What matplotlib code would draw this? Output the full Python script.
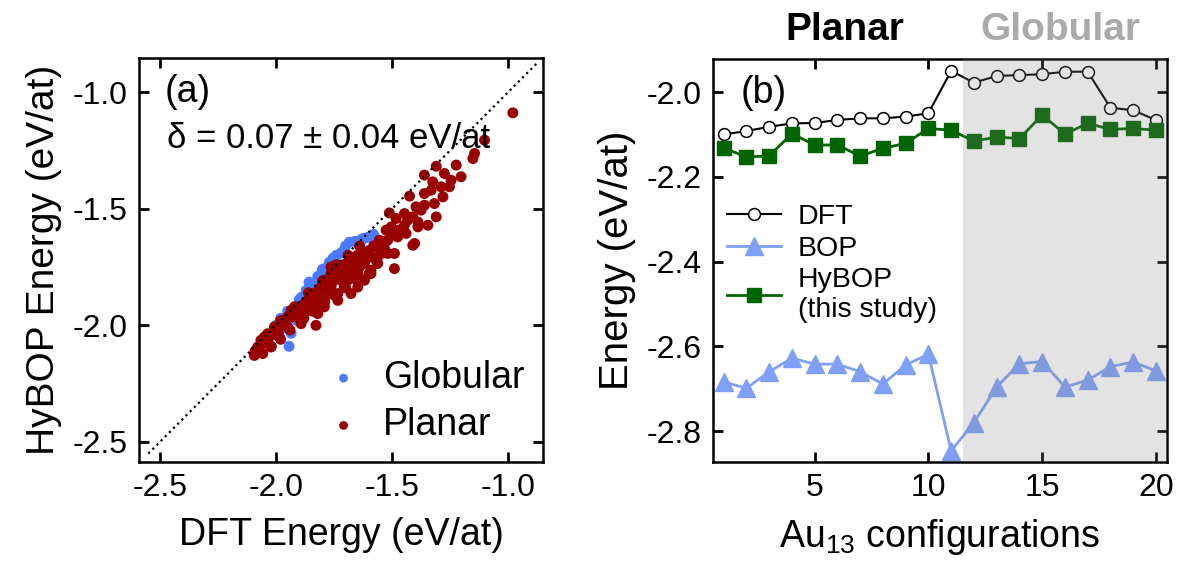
import matplotlib
matplotlib.use("Agg")
import matplotlib.pyplot as plt
from matplotlib.ticker import FormatStrFormatter

plt.rcParams['font.family'] = ['Liberation Sans', 'DejaVu Sans']
plt.rcParams['axes.unicode_minus'] = False
plt.rcParams['mathtext.fontset'] = 'custom'
plt.rcParams['mathtext.rm'] = 'Liberation Sans'
plt.rcParams['mathtext.it'] = 'Liberation Sans:italic'

# ---- panel (a): HyBOP vs DFT energies (eV/at) ----
globular_dft = [-1.685, -1.603, -1.754, -1.858, -1.806, -1.922, -1.944, -1.935, -1.72, -1.89,
                -1.836, -1.776, -1.647, -1.62, -1.707, -1.785, -1.595, -1.66, -1.74, -1.82,
                -1.87, -1.90, -1.95, -1.98, -2.00, -1.77, -1.80, -1.70, -1.63, -1.58,
                -1.96, -1.91]
globular_hybop = [-1.644, -1.622, -1.712, -1.815, -1.785, -1.927, -2.090, -2.034, -1.69, -1.88,
                  -1.82, -1.75, -1.65, -1.627, -1.678, -1.755, -1.622, -1.64, -1.70, -1.79,
                  -1.85, -1.89, -1.94, -1.97, -2.00, -1.73, -1.76, -1.66, -1.63, -1.61,
                  -2.01, -1.98]

planar_dft = [-0.980, -1.102, -1.152, -1.145, -1.224, -1.310, -1.275, -1.203, -1.361, -1.246,
              -1.253, -1.289, -1.332, -1.281, -1.318, -1.425, -1.397, -1.361, -1.310, -1.346,
              -1.512, -1.447, -1.483, -1.411, -1.389, -1.389, -1.447, -1.476, -1.526, -1.440,
              -1.497, -1.403, -1.411, -1.519, -1.490, -1.555, -1.533, -1.576, -1.490, -1.562,
              -1.591, -1.619, -1.634, -1.677, -1.706, -1.734, -1.763, -1.792, -1.734, -1.792,
              -1.828, -1.878, -1.907, -1.964, -2.007, -2.050, -2.079, -2.093, -2.057, -2.022,
              -1.986, -1.950, -1.935, -1.892, -1.849, -1.820, -1.763, -1.691, -1.648, -1.619,
              -1.591, -1.634, -1.691, -1.720, -1.763, -1.820, -1.864, -1.900, -1.935, -1.950,
              -1.978, -2.007, -2.036, -2.065, -1.763, -1.677, -1.849, -1.878, -1.820, -1.792,
              -1.734, -1.677, -1.648, -1.619, -1.591, -1.562, -1.547, -1.519, -1.476, -1.504,
              -1.433, -1.375, -1.361, -1.325,
              -2.09, -2.08, -2.06, -2.04, -2.03, -2.01, -2.00, -1.99, -1.97, -1.96,
              -1.95, -1.93, -1.92, -1.91, -1.90, -1.88, -1.87, -1.86, -1.85, -1.84,
              -1.83, -1.82, -1.81, -1.80, -1.79, -1.78, -1.77, -1.76, -1.75, -1.74,
              -1.73, -1.72, -1.71, -1.70, -1.69, -1.68, -1.67, -1.66, -1.65, -1.64,
              -1.63, -1.62, -1.60, -1.58, -1.57, -1.55, -1.53,
              -2.02, -1.98, -1.94, -1.88, -1.84, -1.79, -1.75, -1.70, -1.66, -1.60,
              -2.05, -1.98, -1.92, -1.86, -1.80, -1.74, -1.69, -1.64]
planar_hybop = [-1.089, -1.206, -1.285, -1.263, -1.313, -1.318, -1.349, -1.363, -1.356, -1.378,
                -1.406, -1.406, -1.421, -1.449, -1.478, -1.446, -1.492, -1.485, -1.535, -1.571,
                -1.518, -1.521, -1.542, -1.535, -1.557, -1.578, -1.571, -1.592, -1.592, -1.606,
                -1.614, -1.649, -1.657, -1.692, -1.692, -1.635, -1.671, -1.664, -1.757, -1.735,
                -1.778, -1.735, -1.807, -1.778, -1.836, -1.750, -1.778, -1.807, -1.864, -1.893,
                -2.000, -1.921, -1.964, -1.979, -2.036, -2.064, -2.093, -2.129, -2.121, -2.093,
                -2.050, -2.007, -1.964, -1.993, -1.936, -1.907, -1.864, -1.807, -1.778, -1.692,
                -1.707, -1.721, -1.750, -1.807, -1.836, -1.864, -1.893, -1.921, -1.936, -1.964,
                -1.993, -2.007, -2.036, -2.064, -1.750, -1.707, -1.864, -1.950, -1.950, -1.921,
                -1.893, -1.864, -1.836, -1.807, -1.764, -1.707, -1.692, -1.635, -1.621, -1.578,
                -1.549, -1.506, -1.435, -1.385,
                -2.11, -2.10, -2.08, -2.07, -2.05, -2.04, -2.02, -2.03, -2.00, -1.99,
                -1.97, -1.95, -1.96, -1.93, -1.94, -1.91, -1.90, -1.91, -1.88, -1.89,
                -1.86, -1.87, -1.84, -1.85, -1.82, -1.83, -1.80, -1.82, -1.79, -1.78,
                -1.76, -1.79, -1.74, -1.77, -1.73, -1.76, -1.72, -1.74, -1.70, -1.75,
                -1.69, -1.72, -1.68, -1.66, -1.72, -1.66, -1.64,
                -2.09, -2.06, -2.02, -1.97, -1.94, -1.90, -1.87, -1.84, -1.80, -1.78,
                -2.05, -1.98, -1.92, -1.86, -1.81, -1.74, -1.70, -1.66]

# ---- panel (b): energies of 20 Au13 configurations ----
configs = list(range(1, 21))
dft_energy = [-2.100, -2.092, -2.082, -2.074, -2.073, -2.066, -2.062, -2.062, -2.058, -2.050,
              -1.950, -1.978, -1.962, -1.960, -1.958, -1.952, -1.952, -2.037, -2.043, -2.066]
bop_energy = [-2.684, -2.699, -2.660, -2.628, -2.642, -2.642, -2.660, -2.689, -2.644, -2.619,
              -2.847, -2.780, -2.696, -2.641, -2.636, -2.696, -2.680, -2.648, -2.637, -2.658]
hybop_energy = [-2.132, -2.153, -2.151, -2.098, -2.125, -2.125, -2.151, -2.133, -2.121, -2.086,
                -2.090, -2.116, -2.106, -2.110, -2.054, -2.099, -2.074, -2.088, -2.086, -2.090]

fig = plt.figure(figsize=(11.79, 5.65), dpi=100)
ax1 = fig.add_axes([0.1179, 0.1823, 0.3427, 0.715])
ax2 = fig.add_axes([0.6047, 0.1823, 0.385, 0.7133])


def style_axes(ax, size):
    for sp in ax.spines.values():
        sp.set_linewidth(1.8)
    ax.tick_params(direction='in', length=7, width=2, top=True, right=True,
                   labelsize=size, pad=8)


# (a) scatter
ax1.scatter(globular_dft, globular_hybop, s=62, color='#4a7bff', edgecolors='none',
            label='Globular', zorder=2)
ax1.scatter(planar_dft, planar_hybop, s=62, color='#990000', edgecolors='none',
            label='Planar', zorder=3)
ax1.plot([-2.55, -0.87], [-2.55, -0.87], color='black', linestyle=':', linewidth=1.6, zorder=4)
ax1.set_xlim(-2.59, -0.85)
ax1.set_ylim(-2.586, -0.854)
ax1.set_xticks([-2.5, -2.0, -1.5, -1.0])
ax1.set_yticks([-2.5, -2.0, -1.5, -1.0])
ax1.xaxis.set_major_formatter(FormatStrFormatter('%.1f'))
ax1.yaxis.set_major_formatter(FormatStrFormatter('%.1f'))
style_axes(ax1, 23)
ax1.set_xlabel('DFT Energy (eV/at)', fontsize=27, labelpad=10)
ax1.set_ylabel('HyBOP Energy (eV/at)', fontsize=28, labelpad=8)
ax1.text(0.064, 0.96, '(a)', transform=ax1.transAxes, fontsize=27, va='top', ha='left')
ax1.text(0.069, 0.80, 'δ = 0.07 ± 0.04 eV/at', transform=ax1.transAxes, fontsize=25,
         va='center', ha='left')
ax1.legend(loc='lower right', bbox_to_anchor=(1.0, 0.0), frameon=False, fontsize=27,
           handletextpad=0.05, borderaxespad=0.1, labelspacing=0.3, markerscale=0.8)

# (b) lines
ax2.axvspan(11.5, 20.6, color='#868686', alpha=0.23, linewidth=0, zorder=5)
ax2.plot(configs, dft_energy, color='black', linewidth=1.5, marker='o', markersize=8.5,
         markerfacecolor='white', markeredgecolor='black', markeredgewidth=1.1, label='DFT')
ax2.plot(configs, bop_energy, color='#80a0f8', linewidth=2, marker='^', markersize=12.5,
         label='BOP')
ax2.plot(configs, hybop_energy, color='#006400', linewidth=2, marker='s', markersize=10,
         label='HyBOP\n(this study)')
ax2.set_xlim(0.53, 20.48)
ax2.set_ylim(-2.873, -1.922)
ax2.set_xticks([5, 10, 15, 20])
ax2.set_yticks([-2.0, -2.2, -2.4, -2.6, -2.8])
ax2.yaxis.set_major_formatter(FormatStrFormatter('%.1f'))
style_axes(ax2, 23)
ax2.set_xlabel('Au$_{13}$ configurations', fontsize=27, labelpad=10)
ax2.set_ylabel('Energy (eV/at)', fontsize=29, labelpad=8)
ax2.text(0.06, 0.96, '(b)', transform=ax2.transAxes, fontsize=27, va='top', ha='left')
ax2.legend(loc='upper left', bbox_to_anchor=(0.03, 0.64), frameon=False, fontsize=20.5,
           handlelength=1.9, handletextpad=0.6, borderaxespad=0, borderpad=0,
           labelspacing=0.2)

fig.text(845 / 1179, 1 - 30 / 565, 'Planar', fontsize=28, fontweight='bold',
         ha='center', va='center', color='black')
fig.text(1060 / 1179, 1 - 30 / 565, 'Globular', fontsize=28, fontweight='bold',
         ha='center', va='center', color='#aaaaaa')

fig.savefig('out.png', dpi=100)
